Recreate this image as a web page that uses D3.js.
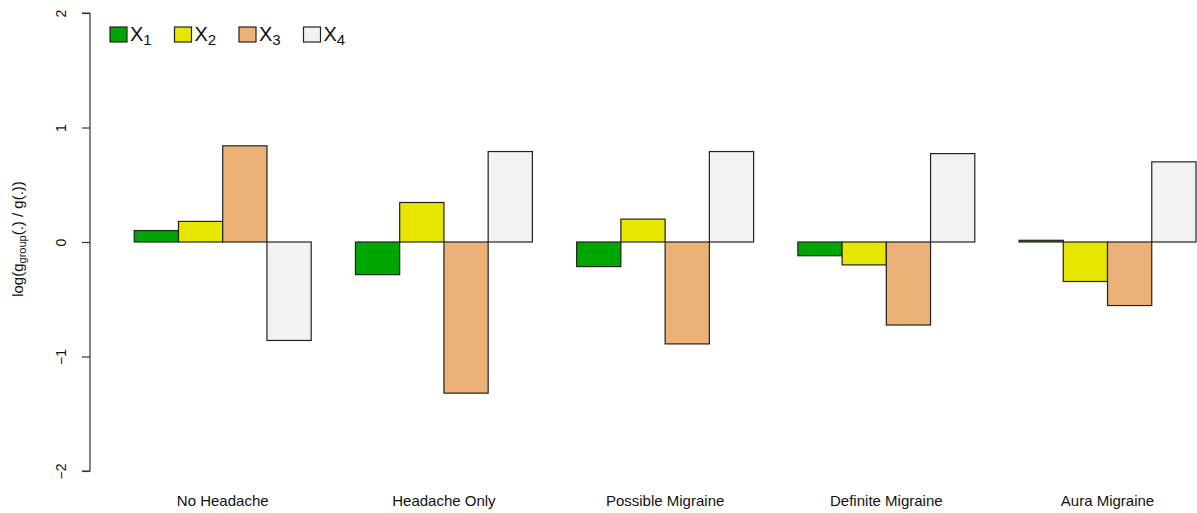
<!DOCTYPE html>
<html>
<head>
<meta charset="utf-8">
<script src="https://cdn.jsdelivr.net/npm/d3@7"></script>
<style>
  body { margin: 0; background: #fff; }
  svg { display: block; font-family: "Liberation Sans", Arial, sans-serif; }
</style>
</head>
<body>
<svg id="chart" width="1197" height="513"></svg>
<script>
// Data
const categories = ["No Headache", "Headache Only", "Possible Migraine", "Definite Migraine", "Aura Migraine"];
const series = ["1", "2", "3", "4"];
const x1Values = [0.10, -0.285, -0.215, -0.12, 0.015];
const x2Values = [0.18, 0.345, 0.20, -0.20, -0.345];
const x3Values = [0.84, -1.32, -0.89, -0.725, -0.555];
const x4Values = [-0.86, 0.79, 0.79, 0.772, 0.70];
const yTicks = [-2, -1, 0, 1, 2];
const colors = ["#00A600", "#E6E600", "#ECB176", "#F2F2F2"];

const values = [x1Values, x2Values, x3Values, x4Values];

// dimensions
const PLOT_LEFT = 90, PLOT_RIGHT = 1196;
const PLOT_TOP = 13, PLOT_BOTTOM = 471;
// R barplot(beside=TRUE): one bar width of space before each group
const unit = (PLOT_RIGHT - PLOT_LEFT) / (categories.length * (series.length + 1));

const svg = d3.select("#chart");

let y = d3.scaleLinear()
    .domain([-2, 2])
    .range([PLOT_BOTTOM, PLOT_TOP]);

let x0 = d3.scaleBand()
    .domain(categories)
    .range([PLOT_LEFT + unit, PLOT_RIGHT])
    .paddingInner(1 / (series.length + 1))
    .paddingOuter(0);

let x1 = d3.scaleBand()
    .domain(series)
    .range([0, x0.bandwidth()]);

// bars
let groups = svg.append("g")
    .selectAll("g")
    .data(categories)
    .enter()
    .append("g")
        .attr("transform", (d) => "translate(" + x0(d) + ",0)");

groups.selectAll("rect")
    .data((d, gi) => series.map((s, si) => ({ s: s, v: values[si][gi], c: colors[si] })))
    .enter()
    .append("rect")
        .attr("x", (d) => x1(d.s))
        .attr("width", x1.bandwidth())
        .attr("y", (d) => y(Math.max(0, d.v)))
        .attr("height", (d) => Math.abs(y(d.v) - y(0)))
        .attr("fill", (d) => d.c)
        .attr("stroke", "#222")
        .attr("stroke-width", 1.2);

// y axis (R style: rotated labels)
let yAxis = svg.append("g")
    .attr("transform", "translate(" + PLOT_LEFT + ",0)")
    .call(d3.axisLeft(y).tickValues(yTicks).tickSize(8).tickFormat(d3.format("d")));
yAxis.select(".domain").attr("stroke", "#333").attr("stroke-width", 1.2)
    .attr("d", "M-8," + y(2) + "H0V" + y(-2) + "H-8");
yAxis.selectAll(".tick line").attr("stroke", "#333").attr("stroke-width", 1.2);
yAxis.selectAll(".tick text")
    .attr("font-size", 14)
    .attr("fill", "#111")
    .attr("x", 0).attr("y", 0).attr("dy", null)
    .attr("text-anchor", "middle")
    .attr("transform", "translate(-24,0) rotate(-90)");

// y label
let yl = svg.append("text")
    .attr("transform", "translate(23," + (y(0) - 3) + ") rotate(-90)")
    .attr("text-anchor", "middle")
    .attr("font-size", 15)
    .attr("fill", "#111");
yl.append("tspan").text("log(g");
yl.append("tspan").attr("font-size", 11).attr("dy", 3).text("group");
yl.append("tspan").attr("dy", -3).text("(.) / g(.))");

// x labels
svg.append("g")
    .selectAll("text")
    .data(categories)
    .enter()
    .append("text")
        .attr("x", (d) => x0(d) + x0.bandwidth() / 2)
        .attr("y", 506)
        .attr("text-anchor", "middle")
        .attr("font-size", 15)
        .attr("fill", "#111")
        .text((d) => d);

// legend
let legend = svg.append("g").attr("transform", "translate(110,27)");
let items = legend.selectAll("g")
    .data(series)
    .enter()
    .append("g")
        .attr("transform", (d, i) => "translate(" + (i * 64.5) + ",0)");
items.append("rect")
    .attr("width", 17).attr("height", 15)
    .attr("fill", (d, i) => colors[i])
    .attr("stroke", "#222").attr("stroke-width", 1.2);
let lt = items.append("text")
    .attr("x", 20).attr("y", 14)
    .attr("font-size", 20)
    .attr("fill", "#111");
lt.append("tspan").text("X");
lt.append("tspan").attr("font-size", 15).attr("dy", 4).text((d) => d);
</script>
</body>
</html>
